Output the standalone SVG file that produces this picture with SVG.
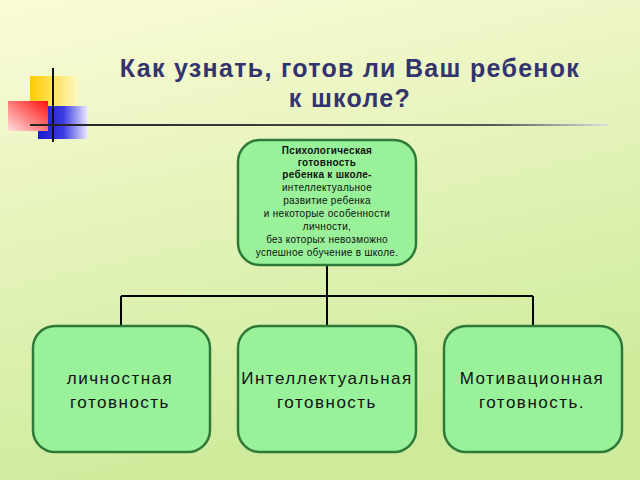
<svg xmlns="http://www.w3.org/2000/svg" width="640" height="480" viewBox="0 0 640 480">
<defs>
<linearGradient id="bg" x1="0" y1="0" x2="0.3" y2="1"><stop offset="0" stop-color="#fbfbd8"/><stop offset="1" stop-color="#cdeb9a"/></linearGradient>
<linearGradient id="yel" x1="0" y1="0" x2="1" y2="0"><stop offset="0" stop-color="#ffcc00"/><stop offset="1" stop-color="#fff8c0"/></linearGradient>
<linearGradient id="red" x1="1" y1="0" x2="0" y2="1"><stop offset="0" stop-color="#ff1010"/><stop offset="1" stop-color="#ffe0e0"/></linearGradient>
<linearGradient id="blu" x1="0" y1="0" x2="1" y2="0"><stop offset="0" stop-color="#1a1ad0"/><stop offset="0.5" stop-color="#3a3ae0"/><stop offset="1" stop-color="#ececff"/></linearGradient>
<linearGradient id="ln" x1="0" y1="0" x2="1" y2="0"><stop offset="0" stop-color="#222"/><stop offset="0.8" stop-color="#555"/><stop offset="1" stop-color="#ddd"/></linearGradient>
<style>
.node{fill:#99f299;stroke:#2f7a3a;stroke-width:2.5}
.c{stroke:#000;stroke-width:2;fill:none}
text{font-family:"Liberation Sans",Arial,sans-serif;text-anchor:middle}
.s{font-size:10px;fill:#111;letter-spacing:0.3px}
.b{font-size:17px;fill:#111;letter-spacing:1.5px}
</style>
</defs>
<rect width="640" height="480" fill="url(#bg)"/>
<rect x="30" y="76" width="48" height="31" fill="url(#yel)"/>
<rect x="38" y="106" width="50" height="33" fill="url(#blu)"/>
<rect x="8" y="101" width="40" height="30" fill="url(#red)"/>
<line x1="53" y1="68" x2="53" y2="142" stroke="#111" stroke-width="2"/>
<rect x="30" y="124" width="578" height="2" fill="url(#ln)"/>
<text x="350" y="77" font-size="25" font-weight="bold" fill="#33336e" letter-spacing="1.3">Как узнать, готов ли Ваш ребенок</text>
<text x="350" y="107" font-size="25" font-weight="bold" fill="#33336e" letter-spacing="1.3">к школе?</text>
<g id="connectors" class="c">
<path d="M327 265V296M121 296H533M121 296V326M327 296V326M533 296V326"/>
</g>
<g id="top">
<rect class="node" x="238" y="140" width="178" height="125" rx="22"/>
<text class="s" font-weight="bold"><tspan x="327" y="154">Психологическая</tspan><tspan x="327" y="166">готовность</tspan><tspan x="327" y="178">ребенка к школе-</tspan></text>
<text class="s"><tspan x="327" y="191">интеллектуальное</tspan><tspan x="327" y="204">развитие ребенка</tspan><tspan x="327" y="217">и некоторые особенности</tspan><tspan x="327" y="230">личности,</tspan><tspan x="327" y="243">без которых невозможно</tspan><tspan x="327" y="256">успешное обучение в школе.</tspan></text>
</g>
<g id="n1"><rect class="node" x="33" y="326" width="177" height="126" rx="22"/><text class="b"><tspan x="120" y="384">личностная</tspan><tspan x="120" y="408">готовность</tspan></text></g>
<g id="n2"><rect class="node" x="238" y="326" width="178" height="126" rx="22"/><text class="b"><tspan x="327" y="384">Интеллектуальная</tspan><tspan x="327" y="408">готовность</tspan></text></g>
<g id="n3"><rect class="node" x="444" y="326" width="178" height="126" rx="22"/><text class="b"><tspan x="532" y="384">Мотивационная</tspan><tspan x="532" y="408">готовность.</tspan></text></g>
</svg>
